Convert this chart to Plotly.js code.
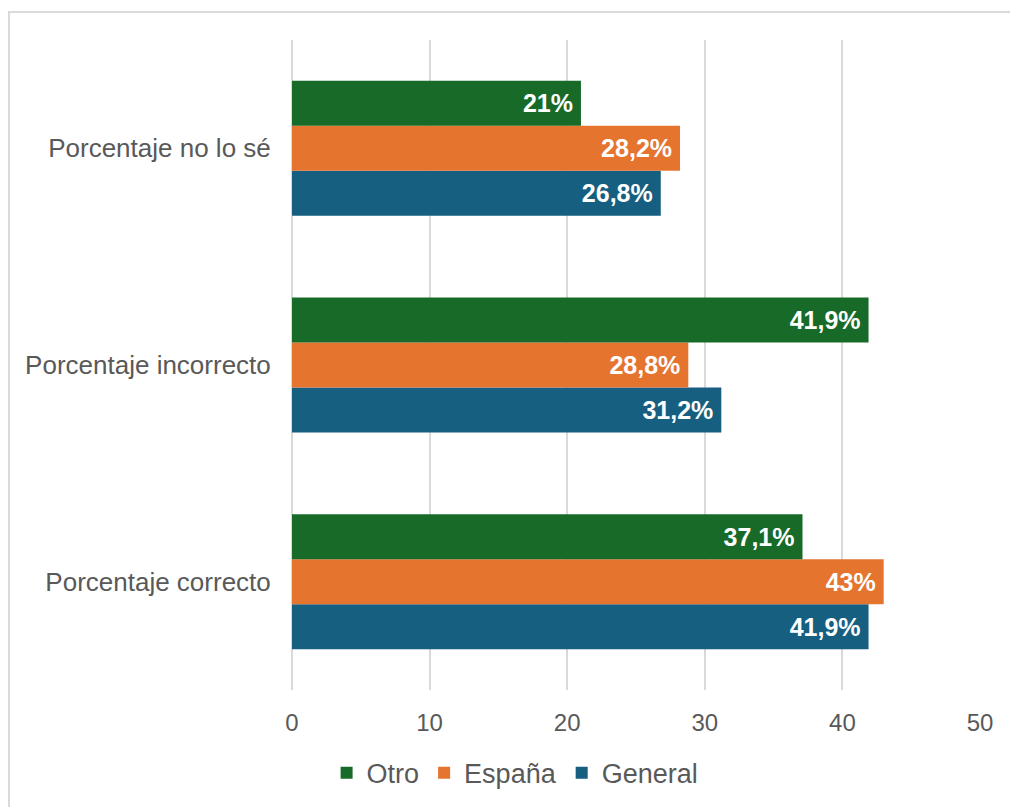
<!DOCTYPE html>
<html>
<head>
<meta charset="utf-8">
<script src="https://cdn.plot.ly/plotly-3.0.1.min.js"></script>
<style>
  html, body { margin: 0; padding: 0; background: #fff; }
  #wrap { position: relative; width: 1010px; height: 807px; }
  #chart { width: 1010px; height: 807px; }
  #frame { position: absolute; left: 8px; top: 11px; width: 1010px; height: 810px;
           border-left: 2px solid #d9d9d9; border-top: 2px solid #d9d9d9; pointer-events: none; }
</style>
</head>
<body>
<div id="wrap">
  <div id="chart"></div>
  <div id="frame"></div>
</div>
<script>
const categories = ["Porcentaje correcto", "Porcentaje incorrecto", "Porcentaje no lo sé"];
const general = [41.9, 31.2, 26.8];
const espana  = [43, 28.8, 28.2];
const otro    = [37.1, 41.9, 21];
const xTicks  = [0, 10, 20, 30, 40, 50];

const fmt = v => String(v).replace('.', ',') + '%\u2009';
const FONT = 'Liberation Sans, Arial, sans-serif';

function series(name, vals, color) {
  return {
    type: 'bar', orientation: 'h', name: name,
    y: categories, x: vals,
    text: vals.map(fmt), textposition: 'inside', insidetextanchor: 'end',
    textfont: { family: FONT, size: 25, color: '#ffffff', weight: 'bold' },
    marker: { color: color },
    cliponaxis: false, hoverinfo: 'skip'
  };
}

const data = [
  series('General', general, '#165f80'),
  series('España', espana, '#e5742f'),
  series('Otro', otro, '#176a27')
];

const layout = {
  width: 1010, height: 807,
  margin: { l: 292, r: 30, t: 40, b: 117 },
  paper_bgcolor: '#ffffff', plot_bgcolor: '#ffffff',
  barmode: 'group', bargap: 0.377, bargroupgap: 0,
  font: { family: FONT, color: '#595959' },
  showlegend: true,
  legend: {
    orientation: 'h', traceorder: 'reversed',
    xref: 'container', yref: 'container',
    x: 0.51, xanchor: 'center', y: 0.042, yanchor: 'middle',
    font: { family: FONT, size: 27, color: '#595959' }
  },
  xaxis: {
    range: [0, 50], tickvals: xTicks, ticktext: xTicks.map(String),
    showgrid: true, gridcolor: '#d9d9d9', gridwidth: 2,
    zeroline: true, zerolinecolor: '#d9d9d9', zerolinewidth: 2,
    showline: false, ticks: 'outside', ticklen: 11, tickcolor: 'rgba(0,0,0,0)',
    tickfont: { family: FONT, size: 24, color: '#595959' }, fixedrange: true
  },
  yaxis: {
    type: 'category', range: [-0.5, 2.5],
    showgrid: false, zeroline: false, showline: false,
    ticks: 'outside', ticklen: 15, tickcolor: 'rgba(0,0,0,0)',
    tickfont: { family: FONT, size: 26, color: '#595959' }, fixedrange: true
  }
};

Plotly.newPlot('chart', data, layout, { staticPlot: true, displayModeBar: false });
</script>
</body>
</html>
